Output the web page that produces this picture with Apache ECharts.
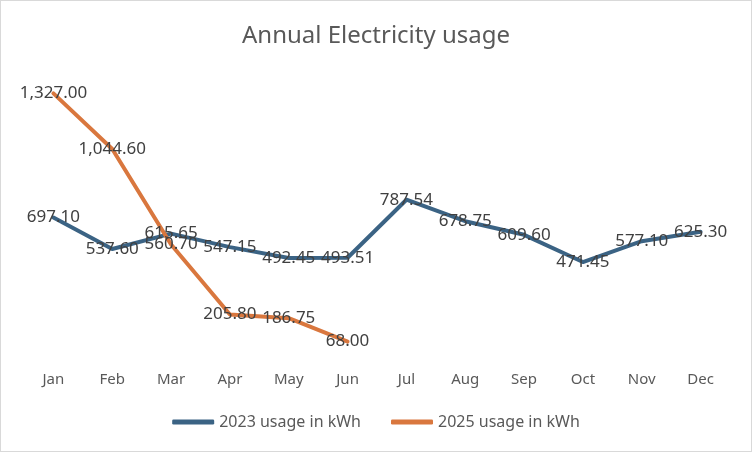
<!DOCTYPE html>
<html><head><meta charset="utf-8">
<script src="https://cdn.jsdelivr.net/npm/echarts@6/dist/echarts.min.js"></script>
<style>html,body{margin:0;padding:0;background:#fff}#c{width:750px;height:450px;border:1px solid #d9d9d9}</style>
</head><body><div id="c"></div>
<script>
const months = ['Jan','Feb','Mar','Apr','May','Jun','Jul','Aug','Sep','Oct','Nov','Dec'];
const usage2023 = [697.10, 537.60, 615.65, 547.15, 492.45, 493.51, 787.54, 678.75, 609.60, 471.45, 577.10, 625.30];
const usage2025 = [1327.00, 1044.60, 560.70, 205.80, 186.75, 68.00];
const seriesNames = ['2023 usage in kWh', '2025 usage in kWh'];
const colors = ['#3B6384', '#D9773E'];
const font = 'Noto Sans, Liberation Sans, sans-serif';
const fmt = p => Number(p.value).toLocaleString('en-US', {minimumFractionDigits: 2, maximumFractionDigits: 2});
const chart = echarts.init(document.getElementById('c'));
const mk = (name, data, color) => ({
  name, type: 'line', data, symbol: 'circle', symbolSize: 0, showSymbol: true, smooth: false,
  lineStyle: {width: 4, color, cap: 'round', join: 'round'},
  itemStyle: {color},
  label: {show: true, position: 'inside', offset: [0, 2], formatter: fmt, color: '#404040', fontSize: 17, fontFamily: font},
  labelLayout: {hideOverlap: false},
  emphasis: {disabled: true}, animation: false
});
chart.setOption({
  animation: false,
  title: {text: 'Annual Electricity usage', left: 'center', top: 18,
    textStyle: {fontSize: 24, fontWeight: 'normal', color: '#595959', fontFamily: font}},
  grid: {left: 23, right: 21, top: 78, bottom: 96},
  xAxis: {type: 'category', data: months, boundaryGap: true,
    axisLine: {show: false}, axisTick: {show: false}, splitLine: {show: false},
    axisLabel: {color: '#595959', fontSize: 15, fontFamily: font, margin: 17}},
  yAxis: {type: 'value', min: 0, max: 1400, show: false, splitLine: {show: false}},
  legend: {bottom: 16, left: 'center', itemWidth: 42, itemHeight: 5, itemGap: 30, icon: 'roundRect',
    textStyle: {color: '#595959', fontSize: 16, fontFamily: font},
    data: seriesNames},
  series: [mk(seriesNames[0], usage2023, colors[0]), mk(seriesNames[1], usage2025, colors[1])]
});
</script></body></html>
